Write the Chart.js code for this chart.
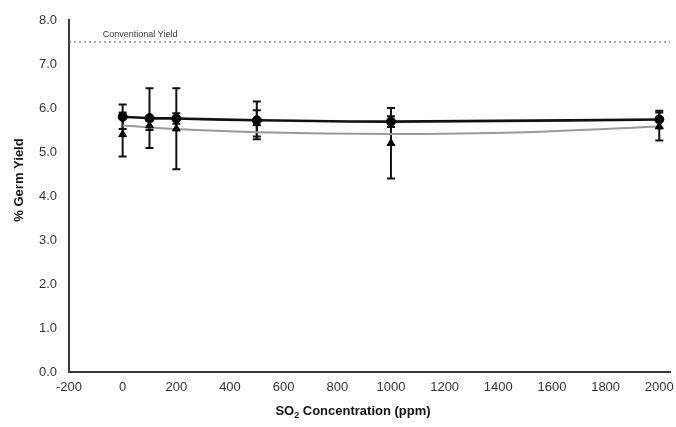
<!DOCTYPE html>
<html><head><meta charset="utf-8">
<script src="https://cdn.jsdelivr.net/npm/chart.js@4/dist/chart.umd.min.js"></script>
<style>html,body{margin:0;padding:0;background:#fff}#wrap{width:676px;height:427px}</style>
</head><body><div id="wrap"><canvas id="c" width="676" height="427"></canvas></div>
<script>
const concentrations = [0, 100, 200, 500, 1000, 2000];
const circleYield = [5.80, 5.77, 5.76, 5.72, 5.69, 5.74];
const circleErr = [0.28, 0.68, 0.12, 0.43, 0.12, 0.20];
const triangleYield = [5.40, 5.60, 5.53, 5.65, 5.20, 5.58];
const triangleErr = [0.50, 0.10, 0.92, 0.30, 0.80, 0.32];
const trendX = [0, 200, 500, 1000, 1500, 2000];
const triangleTrend = [5.60, 5.52, 5.45, 5.41, 5.45, 5.58];
const conventionalYield = 7.5;
const conventionalLabel = 'Conventional Yield';
const xTicks = [-200, 0, 200, 400, 600, 800, 1000, 1200, 1400, 1600, 1800, 2000];
const yTicks = [0, 1, 2, 3, 4, 5, 6, 7, 8];
const xTitleMain = 'SO';
const xTitleSub = '2';
const xTitleRest = ' Concentration (ppm)';
const yTitle = '% Germ Yield';

const FONT = '"Liberation Sans", Arial, sans-serif';

const toPts = (xs, ys) => xs.map((x, i) => ({x: x, y: ys[i]}));

const errorBars = {
  id: 'errorBars',
  beforeDatasetsDraw(chart) {
    const ctx = chart.ctx, xs = chart.scales.x, ys = chart.scales.y;
    const sets = [[triangleYield, triangleErr], [circleYield, circleErr]];
    ctx.save();
    ctx.strokeStyle = '#111';
    ctx.lineWidth = 2;
    sets.forEach(([vals, errs]) => {
      vals.forEach((v, i) => {
        const px = xs.getPixelForValue(concentrations[i]);
        const top = ys.getPixelForValue(v + errs[i]);
        const bot = ys.getPixelForValue(v - errs[i]);
        ctx.beginPath();
        ctx.moveTo(px, top); ctx.lineTo(px, bot);
        ctx.moveTo(px - 4, top); ctx.lineTo(px + 4, top);
        ctx.moveTo(px - 4, bot); ctx.lineTo(px + 4, bot);
        ctx.stroke();
      });
    });
    ctx.restore();
  }
};

const textLayer = {
  id: 'textLayer',
  afterDraw(chart) {
    const ctx = chart.ctx, xs = chart.scales.x, ys = chart.scales.y;
    ctx.save();
    ctx.fillStyle = '#333';
    ctx.font = '9px ' + FONT;
    ctx.textAlign = 'left';
    ctx.textBaseline = 'alphabetic';
    ctx.fillText(conventionalLabel, xs.getPixelForValue(-74), ys.getPixelForValue(conventionalYield) - 5);
    ctx.fillStyle = '#111';
    ctx.font = 'bold 13px ' + FONT;
    const wMain = ctx.measureText(xTitleMain).width;
    const wRest = ctx.measureText(xTitleRest).width;
    ctx.font = 'bold 9px ' + FONT;
    const wSub = ctx.measureText(xTitleSub).width;
    const total = wMain + wSub + wRest;
    let x0 = 353 - total / 2;
    const by = 415;
    ctx.font = 'bold 13px ' + FONT;
    ctx.fillText(xTitleMain, x0, by);
    ctx.font = 'bold 9px ' + FONT;
    ctx.fillText(xTitleSub, x0 + wMain, by + 3);
    ctx.font = 'bold 13px ' + FONT;
    ctx.fillText(xTitleRest, x0 + wMain + wSub, by);
    ctx.translate(23, 180);
    ctx.rotate(-Math.PI / 2);
    ctx.textAlign = 'center';
    ctx.fillText(yTitle, 0, 0);
    ctx.restore();
  }
};

new Chart(document.getElementById('c'), {
  type: 'scatter',
  data: {
    datasets: [
      {
        label: 'Circles',
        data: toPts(concentrations, circleYield),
        showLine: true,
        borderColor: '#111',
        borderWidth: 2.6,
        cubicInterpolationMode: 'monotone',
        pointStyle: 'circle',
        pointRadius: 4.5,
        pointBorderWidth: 1,
        pointBackgroundColor: '#000',
        pointBorderColor: '#000',
        order: 1
      },
      {
        label: 'Triangles',
        data: toPts(concentrations, triangleYield),
        showLine: false,
        pointStyle: 'triangle',
        pointRadius: 4.5,
        pointBorderWidth: 1,
        pointBackgroundColor: '#000',
        pointBorderColor: '#000',
        order: 2
      },
      {
        label: 'Triangle trend',
        data: toPts(trendX, triangleTrend),
        showLine: true,
        borderColor: '#9a9a9a',
        borderWidth: 2,
        cubicInterpolationMode: 'monotone',
        pointRadius: 0,
        order: 3
      },
      {
        label: 'Conventional',
        data: [{x: -200, y: conventionalYield}, {x: 2040, y: conventionalYield}],
        showLine: true,
        borderColor: '#555',
        borderWidth: 1,
        borderDash: [2, 3],
        pointRadius: 0,
        order: 4
      }
    ]
  },
  options: {
    responsive: false,
    devicePixelRatio: 1,
    animation: false,
    events: [],
    layout: {padding: {top: 20, right: 6, left: 0, bottom: 0}},
    plugins: {legend: {display: false}, tooltip: {enabled: false}},
    scales: {
      x: {
        type: 'linear', min: -200, max: 2040,
        afterBuildTicks: (a) => { a.ticks = xTicks.map(v => ({value: v})); },
        afterFit: (a) => { a.height = 55; a.paddingRight = 0; a.paddingLeft = 0; },
        grid: {display: false, drawTicks: false},
        border: {display: true, color: '#3a3a3a', width: 2},
        ticks: {color: '#333', font: {family: FONT, size: 13}, padding: 8, maxRotation: 0, autoSkip: false, callback: (v) => String(v)}
      },
      y: {
        type: 'linear', min: 0, max: 8,
        afterBuildTicks: (a) => { a.ticks = yTicks.map(v => ({value: v})); },
        afterFit: (a) => { a.width = 69; a.paddingTop = 0; a.paddingBottom = 0; },
        grid: {display: false, drawTicks: false},
        border: {display: true, color: '#3a3a3a', width: 2},
        ticks: {color: '#333', font: {family: FONT, size: 13}, padding: 12, callback: (v) => Number(v).toFixed(1)}
      }
    }
  },
  plugins: [errorBars, textLayer]
});
</script>
</body></html>
